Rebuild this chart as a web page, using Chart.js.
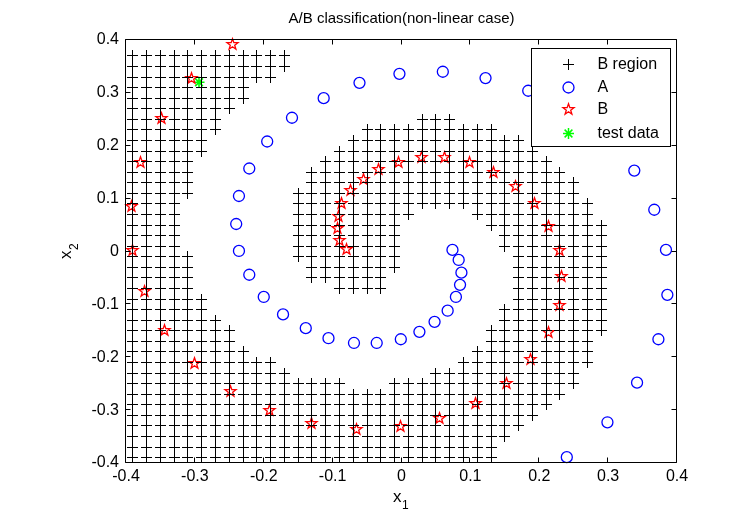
<!DOCTYPE html>
<html>
<head>
<meta charset="utf-8">
<script src="https://cdn.jsdelivr.net/npm/chart.js@4.4.0/dist/chart.umd.min.js"></script>
<style>
html,body{margin:0;padding:0;background:#ffffff;}
#wrap{width:740px;height:532px;}
</style>
</head>
<body>
<div id="wrap"><canvas id="c" width="740" height="532"></canvas></div>
<script>
// ---------------- data ----------------
const gridX = [-0.39,-0.37,-0.35,-0.33,-0.31,-0.29,-0.27,-0.25,-0.23,-0.21,-0.19,-0.17,-0.15,-0.13,-0.11,-0.09,-0.07,-0.05,-0.03,-0.01,
               0.01,0.03,0.05,0.07,0.09,0.11,0.13,0.15,0.17,0.19,0.21,0.23,0.25,0.27,0.29,0.31,0.33,0.35,0.37,0.39];
const gridY = [0.39,0.37,0.35,0.33,0.31,0.29,0.27,0.25,0.23,0.21,0.19,0.17,0.15,0.13,0.11,0.09,0.07,0.05,0.03,0.01,
               -0.01,-0.03,-0.05,-0.07,-0.09,-0.11,-0.13,-0.15,-0.17,-0.19,-0.21,-0.23,-0.25,-0.27,-0.29,-0.31,-0.33,-0.35,-0.37,-0.39];
// B region: for each grid row (gridY index), runs of gridX indices [from, to]
const bRegionRuns = [
  [],
  [[0,11]],
  [[0,11]],
  [[0,10]],
  [[0,8]],
  [[0,8]],
  [[0,7]],
  [[0,6],[21,23]],
  [[0,6],[17,26]],
  [[0,5],[16,28]],
  [[0,5],[15,29]],
  [[0,4],[14,30]],
  [[0,4],[13,31]],
  [[0,4],[13,32]],
  [[0,4],[12,32]],
  [[0,3],[12,33]],
  [[0,3],[12,20],[25,33]],
  [[0,3],[12,19],[26,34]],
  [[0,3],[12,19],[27,34]],
  [[0,3],[12,19],[27,34]],
  [[0,4],[12,19],[28,34]],
  [[0,4],[13,19],[28,34]],
  [[0,4],[13,18],[28,34]],
  [[0,4],[15,18],[28,34]],
  [[0,5],[28,34]],
  [[0,5],[27,34]],
  [[0,6],[27,34]],
  [[0,7],[26,34]],
  [[0,7],[26,33]],
  [[0,8],[25,33]],
  [[0,10],[24,33]],
  [[0,11],[22,32]],
  [[0,15],[19,32]],
  [[0,31]],
  [[0,30]],
  [[0,29]],
  [[0,28]],
  [[0,27]],
  [[0,26]],
  [[0,26]]
];
const aPoints = [
  [0.074,0.003],[0.083,-0.016],[0.087,-0.040],[0.085,-0.063],[0.079,-0.086],[0.067,-0.112],[0.048,-0.133],
  [0.026,-0.152],[-0.001,-0.166],[-0.036,-0.173],[-0.069,-0.173],[-0.106,-0.164],[-0.139,-0.145],[-0.172,-0.119],
  [-0.200,-0.086],[-0.221,-0.044],[-0.236,0.001],[-0.240,0.052],[-0.236,0.105],[-0.221,0.157],[-0.195,0.208],
  [-0.159,0.253],[-0.113,0.290],[-0.061,0.319],[-0.003,0.336],[0.060,0.340],[0.122,0.328],[0.184,0.304],
  [0.338,0.153],[0.367,0.079],[0.384,0.003],[0.386,-0.082],[0.373,-0.166],[0.342,-0.248],[0.299,-0.323],[0.240,-0.389]
];
const bPoints = [
  [-0.080,0.003],[-0.090,0.020],[-0.093,0.043],[-0.091,0.067],[-0.087,0.091],[-0.074,0.116],[-0.055,0.137],
  [-0.033,0.156],[-0.004,0.169],[0.029,0.177],[0.062,0.177],[0.099,0.168],[0.134,0.149],[0.166,0.123],
  [0.193,0.090],[0.214,0.048],[0.229,0.002],[0.233,-0.047],[0.229,-0.103],[0.214,-0.154],[0.188,-0.205],
  [0.153,-0.249],[0.107,-0.287],[0.055,-0.315],[-0.002,-0.331],[-0.066,-0.336],[-0.130,-0.326],[-0.192,-0.301],
  [-0.249,-0.264],[-0.301,-0.212],[-0.344,-0.150],[-0.373,-0.076],[-0.390,0.002],[-0.392,0.086],[-0.379,0.169],
  [-0.349,0.251],[-0.305,0.327],[-0.246,0.392]
];
const testPoints = [[-0.294,0.320]];
const xTicks = [-0.4,-0.3,-0.2,-0.1,0,0.1,0.2,0.3,0.4];
const xTickLabels = ['-0.4','-0.3','-0.2','-0.1','0','0.1','0.2','0.3','0.4'];
const yTicks = [-0.4,-0.3,-0.2,-0.1,0,0.1,0.2,0.3,0.4];
const yTickLabels = ['-0.4','-0.3','-0.2','-0.1','0','0.1','0.2','0.3','0.4'];
const seriesNames = ['B region','A','B','test data'];
const titleText = 'A/B classification(non-linear case)';
const xLabel = ['x', '1'];   // x with subscript 1
const yLabel = ['x', '2'];   // x with subscript 2

// ---------------- build ----------------
const FONT = '"Liberation Sans", Arial, Helvetica, sans-serif';
const regionData = [];
bRegionRuns.forEach((runs, j) => {
  runs.forEach(([a, b]) => {
    for (let i = a; i <= b; i++) regionData.push({x: gridX[i], y: gridY[j]});
  });
});
const toXY = arr => arr.map(p => ({x: p[0], y: p[1]}));

function makeCross(color, size) {
  const c = document.createElement('canvas');
  c.width = size; c.height = size;
  const g = c.getContext('2d');
  const m = Math.floor(size / 2);
  g.fillStyle = color;
  g.fillRect(0, m, size, 1);
  g.fillRect(m, 0, 1, size);
  return c;
}
function makePentagram(color, r, lw) {
  const s = Math.ceil(2 * r + 2 * lw + 2);
  const c = document.createElement('canvas');
  c.width = s; c.height = s;
  const g = c.getContext('2d');
  g.strokeStyle = color; g.lineWidth = lw; g.lineJoin = 'miter';
  g.beginPath();
  for (let k = 0; k < 10; k++) {
    const rr = (k % 2 === 0) ? r : r * 0.40;
    const ang = -Math.PI / 2 + k * Math.PI / 5;
    const px = s / 2 + rr * Math.cos(ang), py = s / 2 + rr * Math.sin(ang);
    if (k === 0) g.moveTo(px, py); else g.lineTo(px, py);
  }
  g.closePath(); g.stroke();
  return c;
}
const crossImg = makeCross('#000000', 11);
const starImg = makePentagram('#ff0000', 5.8, 1.3);

const crispPlugin = {
  id: 'crisp',
  beforeDatasetsDraw(chart) { chart.ctx.imageSmoothingEnabled = false; },
  afterDatasetsDraw(chart) { chart.ctx.imageSmoothingEnabled = true; }
};

const framePlugin = {
  id: 'frame',
  afterDatasetsDraw(chart) {
    const {ctx, chartArea: ca, scales} = chart;
    ctx.save();
    ctx.strokeStyle = '#000'; ctx.lineWidth = 1;
    const L = Math.round(ca.left) - 0.5, R = Math.round(ca.right) - 0.5;
    const T = Math.round(ca.top) - 0.5, B = Math.round(ca.bottom) - 0.5;
    ctx.beginPath();
    ctx.rect(L, T, R - L, B - T);
    const tl = 5;
    xTicks.forEach(v => {
      const px = Math.round(scales.x.getPixelForValue(v)) - 0.5;
      ctx.moveTo(px, B); ctx.lineTo(px, B - tl);
      ctx.moveTo(px, T); ctx.lineTo(px, T + tl);
    });
    yTicks.forEach(v => {
      const py = Math.round(scales.y.getPixelForValue(v)) - 0.5;
      ctx.moveTo(L, py); ctx.lineTo(L + tl, py);
      ctx.moveTo(R, py); ctx.lineTo(R - tl, py);
    });
    ctx.stroke();

    // axis labels with subscripts
    ctx.fillStyle = '#000';
    ctx.textBaseline = 'alphabetic'; ctx.textAlign = 'left';
    const cx = (ca.left + ca.right) / 2, cy = (ca.top + ca.bottom) / 2;
    // x label
    ctx.font = '17px ' + FONT;
    let wx = ctx.measureText(xLabel[0]).width;
    ctx.font = '12px ' + FONT;
    let ws = ctx.measureText(xLabel[1]).width;
    let x0 = cx - (wx + ws) / 2 - 1;
    ctx.font = '17px ' + FONT;
    ctx.fillText(xLabel[0], x0, ca.bottom + 39);
    ctx.font = '12px ' + FONT;
    ctx.fillText(xLabel[1], x0 + wx + 0.5, ca.bottom + 46);
    // y label (rotated)
    ctx.save();
    ctx.translate(ca.left - 58, cy);
    ctx.rotate(-Math.PI / 2);
    ctx.font = '17px ' + FONT;
    wx = ctx.measureText(yLabel[0]).width;
    ctx.font = '12px ' + FONT;
    ws = ctx.measureText(yLabel[1]).width;
    x0 = -(wx + ws) / 2;
    ctx.font = '17px ' + FONT;
    ctx.fillText(yLabel[0], x0, 3);
    ctx.font = '12px ' + FONT;
    ctx.fillText(yLabel[1], x0 + wx + 0.5, 10);
    ctx.restore();
    ctx.restore();
  }
};

const legendPlugin = {
  id: 'boxLegend',
  afterDraw(chart) {
    const {ctx, chartArea: ca} = chart;
    const w = 139, h = 98;
    const left = Math.round(ca.right) - 7 - w + 0.5, top = Math.round(ca.top) + 8 + 0.5;
    ctx.save();
    ctx.fillStyle = '#fff';
    ctx.fillRect(left, top, w, h);
    ctx.strokeStyle = '#000'; ctx.lineWidth = 1;
    ctx.strokeRect(left, top, w, h);
    const mx = Math.round(left + 36), tx = left + 66;
    const rows = [Math.round(top + 15), Math.round(top + 38.5), Math.round(top + 60), Math.round(top + 84)];
    // B region cross
    ctx.drawImage(crossImg, mx - 5, rows[0] - 5);
    // A circle
    ctx.beginPath(); ctx.arc(mx + 0.5, rows[1] + 0.5, 5.5, 0, Math.PI * 2);
    ctx.strokeStyle = '#0000ff'; ctx.lineWidth = 1.3; ctx.stroke();
    // B star
    ctx.drawImage(starImg, mx + 0.5 - starImg.width / 2, rows[2] + 0.5 - starImg.height / 2);
    // test data asterisk
    ctx.beginPath();
    for (let k = 0; k < 4; k++) {
      const a = k * Math.PI / 4, r = 5.5;
      ctx.moveTo(mx + 0.5 - r * Math.cos(a), rows[3] + 0.5 - r * Math.sin(a));
      ctx.lineTo(mx + 0.5 + r * Math.cos(a), rows[3] + 0.5 + r * Math.sin(a));
    }
    ctx.strokeStyle = '#00ff00'; ctx.lineWidth = 1.5; ctx.stroke();
    ctx.fillStyle = '#000';
    ctx.font = '16px ' + FONT;
    ctx.textBaseline = 'middle'; ctx.textAlign = 'left';
    seriesNames.forEach((s, k) => ctx.fillText(s, tx, rows[k] + 1));
    ctx.restore();
  }
};

new Chart(document.getElementById('c'), {
  type: 'scatter',
  data: {
    datasets: [
      {label: seriesNames[0], data: regionData, xAxisID: 'x', yAxisID: 'y', pointStyle: crossImg, pointRadius: 5.5,
       borderColor: '#000000', backgroundColor: '#000000', clip: false},
      {label: seriesNames[1], data: toXY(aPoints), xAxisID: 'x', yAxisID: 'y', pointStyle: 'circle', pointRadius: 5.5,
       borderColor: '#0000ff', backgroundColor: 'rgba(0,0,0,0)', pointBorderWidth: 1.3, clip: false},
      {label: seriesNames[2], data: toXY(bPoints), xAxisID: 'x', yAxisID: 'y', pointStyle: starImg, pointRadius: 6,
       borderColor: '#ff0000', backgroundColor: 'rgba(0,0,0,0)', clip: false},
      {label: seriesNames[3], data: toXY(testPoints), xAxisID: 'x', yAxisID: 'y', pointStyle: 'star', pointRadius: 5.5,
       borderColor: '#00ff00', backgroundColor: '#00ff00', pointBorderWidth: 1.6, clip: false}
    ]
  },
  options: {
    responsive: false,
    animation: false,
    devicePixelRatio: 1,
    events: [],
    layout: {padding: {left: 0, right: 63, top: 0, bottom: 0}},
    plugins: {
      legend: {display: false},
      tooltip: {enabled: false},
      title: {display: false}
    },
    scales: {
      x: {
        type: 'linear', position: 'bottom', min: -0.4, max: 0.4,
        afterBuildTicks: s => { s.ticks = xTicks.map(v => ({value: v})); },
        afterFit: s => { s.height = 69; },
        ticks: {callback: (v, i) => xTickLabels[i], color: '#000', padding: 4, maxRotation: 0, autoSkip: false,
                font: {family: FONT, size: 16}},
        grid: {display: false, drawTicks: false},
        border: {display: false},
        title: {display: false}
      },
      xTitle: {
        type: 'linear', position: 'top', min: -0.4, max: 0.4,
        afterFit: s => { s.height = 40; },
        ticks: {display: false},
        grid: {display: false, drawTicks: false},
        border: {display: false},
        title: {display: true, text: titleText, color: '#000', font: {family: FONT, size: 15, weight: 'normal'},
                padding: {top: 10, bottom: 0}}
      },
      y: {
        type: 'linear', position: 'left', min: -0.4, max: 0.4,
        afterBuildTicks: s => { s.ticks = yTicks.map(v => ({value: v})); },
        afterFit: s => { s.width = 126; },
        ticks: {callback: (v, i) => yTickLabels[i], color: '#000', padding: 7, autoSkip: false,
                font: {family: FONT, size: 16}},
        grid: {display: false, drawTicks: false},
        border: {display: false},
        title: {display: false}
      }
    }
  },
  plugins: [crispPlugin, framePlugin, legendPlugin]
});
</script>
</body>
</html>
